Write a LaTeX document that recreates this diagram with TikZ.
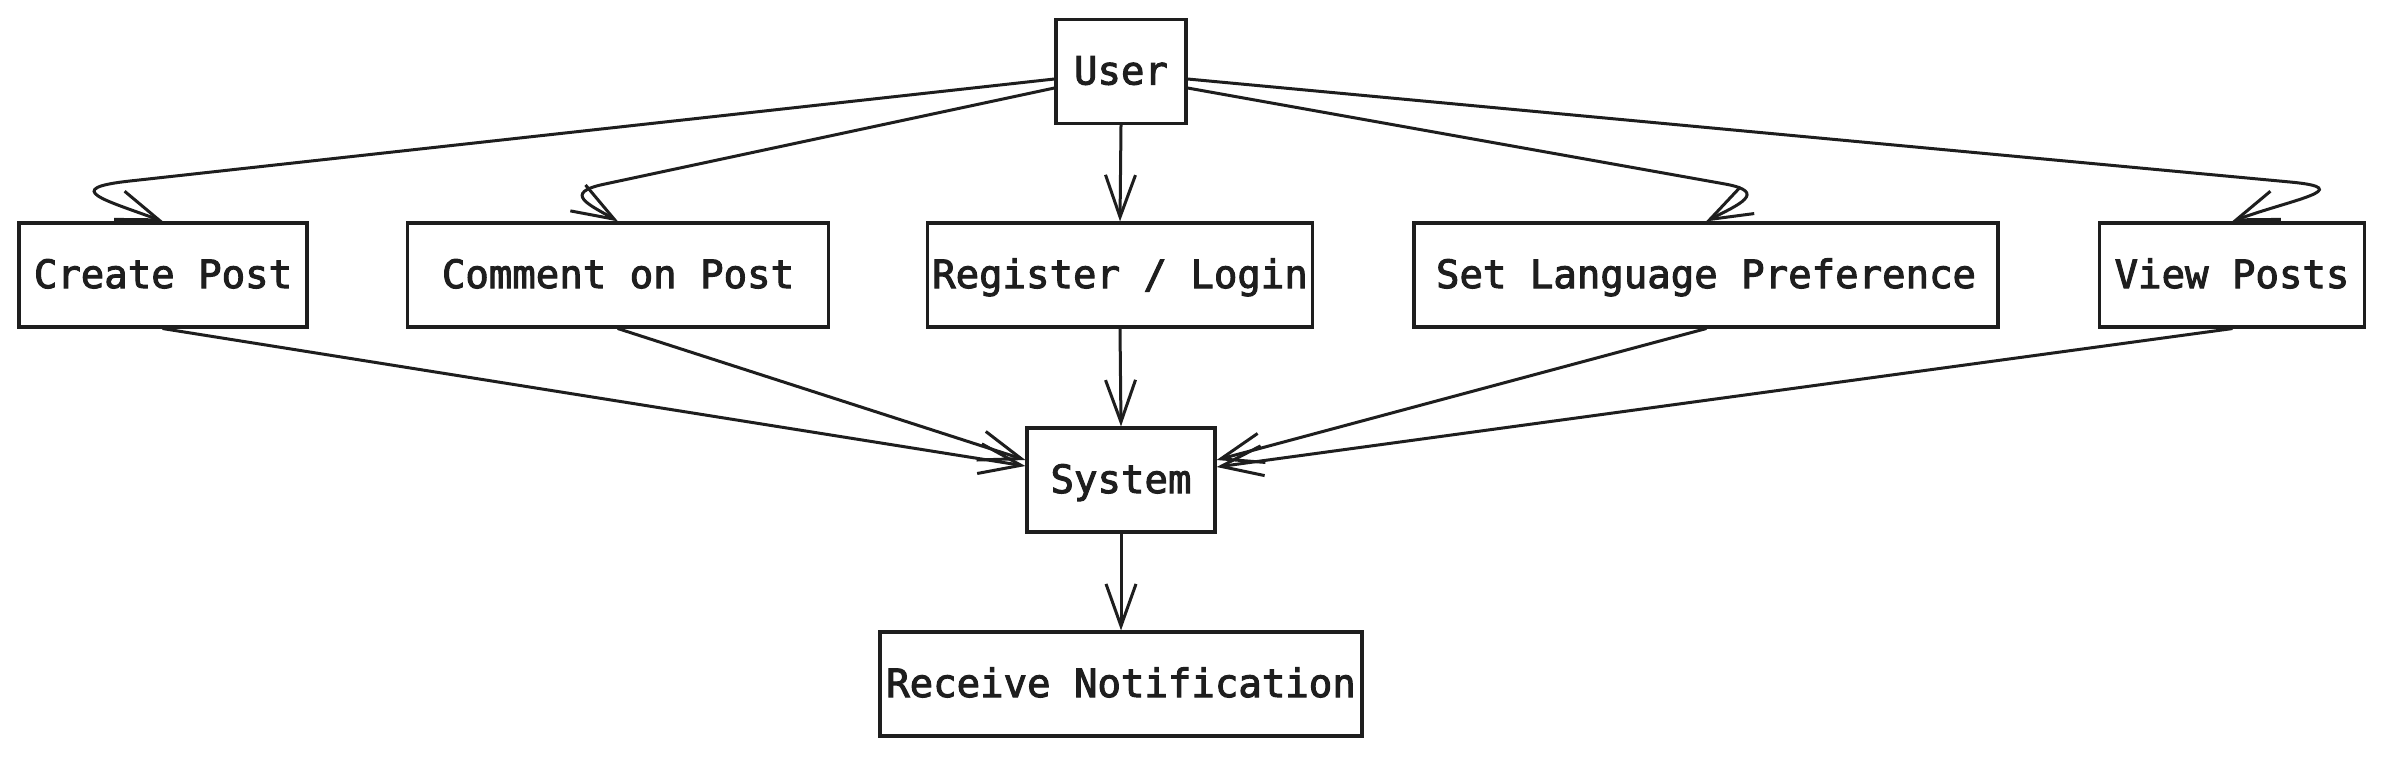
\documentclass[tikz,border=0pt]{standalone}
\usepackage{fontspec}
\newfontfamily\sketchfont{DejaVu Sans Mono}[RawFeature={embolden=2.6}]
\usetikzlibrary{arrows.meta}
\definecolor{ink}{HTML}{1E1E1E}
\begin{document}
\begin{tikzpicture}[x=1pt,y=-1pt,
  box/.style={draw=ink, line width=3.2pt, fill=white, minimum height=104pt, inner sep=0pt,
    text height=34pt, text depth=8pt,
    font=\sketchfont\fontsize{39}{47}\selectfont, text=ink},
  conn/.style={draw=ink, line width=3pt, line cap=round,
    -{Straight Barb[length=42pt,width=30pt,line width=3pt]}}]
\useasboundingbox[fill=white] (0,0) rectangle (2384,756);

\node[box, minimum width=130pt] (user) at (1121,71.5) {User};
\node[box, minimum width=288pt] (create) at (163,275) {Create Post};
\node[box, minimum width=421pt] (comment) at (618,275) {Comment on Post};
\node[box, minimum width=385pt] (register) at (1120,275) {Register / Login};
\node[box, minimum width=584pt] (lang) at (1706,275) {Set Language Preference};
\node[box, minimum width=265pt] (view) at (2232,275) {View Posts};
\node[box, minimum width=188pt] (system) at (1121,480) {System};
\node[box, minimum width=482pt] (recv) at (1121,684) {Receive Notification};

\coordinate (ca) at (130,181);
\coordinate (cm) at (605,184);
\coordinate (la) at (1725,184);
\coordinate (va) at (2290,182);

\draw[conn] ([yshift=-7.5pt]user.west) -- (ca) .. controls (60,188.6) and (105,200) .. (create.north);
\draw[conn] ([yshift=-16.5pt]user.west) -- (cm) .. controls (561,193) and (590,205) .. (comment.north);
\draw[conn] (user.south) -- (register.north);
\draw[conn] ([yshift=-16.5pt]user.east) -- (la) .. controls (1769,192) and (1738,205) .. (lang.north);
\draw[conn] ([yshift=-7.5pt]user.east) -- (va) .. controls (2360,188.5) and (2290,200) .. (view.north);

\draw[conn] (create.south) -- ([yshift=14pt]system.west);
\draw[conn] (comment.south) -- ([yshift=20pt]system.west);
\draw[conn] (register.south) -- (system.north);
\draw[conn] (lang.south) -- ([yshift=20pt]system.east);
\draw[conn] (view.south) -- ([yshift=13pt]system.east);
\draw[conn] (system.south) -- (recv.north);
\end{tikzpicture}
\end{document}
